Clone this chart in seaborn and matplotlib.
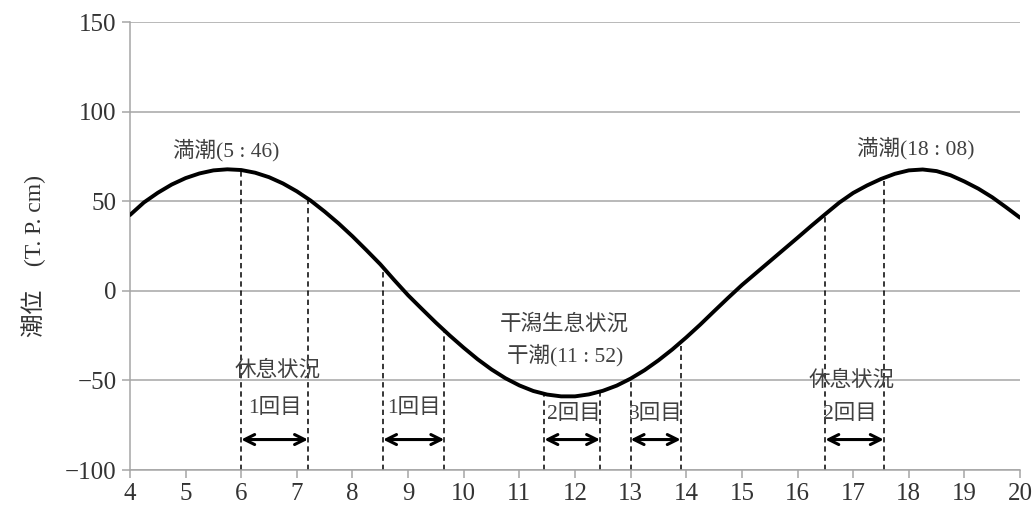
import numpy as np
import pandas as pd
import matplotlib
matplotlib.use("Agg")
import matplotlib.pyplot as plt
import seaborn as sns

# ---- data ----
hours = [4.0, 4.25, 4.5, 4.75, 5.0, 5.25, 5.5, 5.75, 6.0, 6.25, 6.5, 6.75,
         7.0, 7.25, 7.5, 7.75, 8.0, 8.25, 8.5, 8.75, 9.0, 9.25, 9.5, 9.75,
         10.0, 10.25, 10.5, 10.75, 11.0, 11.25, 11.5, 11.75, 12.0, 12.25, 12.5, 12.75,
         13.0, 13.25, 13.5, 13.75, 14.0, 14.25, 14.5, 14.75, 15.0, 15.25, 15.5, 15.75,
         16.0, 16.25, 16.5, 16.75, 17.0, 17.25, 17.5, 17.75, 18.0, 18.25, 18.5, 18.75,
         19.0, 19.25, 19.5, 19.75, 20.0]
tide = [42.3, 49.3, 54.7, 59.3, 62.9, 65.5, 67.2, 67.8, 67.4, 65.9, 63.4, 59.9,
        55.5, 50.3, 44.2, 37.6, 30.4, 22.7, 14.8, 6.0, -2.5, -10.2, -17.8, -25.0,
        -31.8, -38.2, -43.9, -48.8, -52.8, -55.9, -57.9, -58.9, -58.9, -57.8, -55.8, -52.9,
        -49.0, -44.3, -38.8, -32.7, -26.0, -18.9, -11.4, -4.0, 3.2, 9.8, 16.4, 23.0,
        29.6, 36.3, 42.8, 49.2, 54.6, 58.8, 62.4, 65.3, 67.2, 67.7, 66.8, 64.5,
        61.0, 57.0, 52.2, 46.6, 40.8]

# observation windows (start, end) and curve level at their dashed lines
win_start = [6.0, 8.55, 11.45, 13.0, 16.5]
win_end = [7.2, 9.65, 12.45, 13.9, 17.55]
start_level = [67.0, 13.0, -57.5, -49.5, 42.5]
end_level = [51.0, -22.5, -56.5, -31.0, 61.5]
arrow_level = -83.0

labels_text = ["満潮(5 : 46)", "満潮(18 : 08)", "休息状況", "1回目", "1回目",
               "干潟生息状況", "干潮(11 : 52)", "2回目", "3回目", "休息状況", "2回目"]
labels_x = [5.73, 18.12, 6.65, 6.6, 9.1, 11.8, 11.83, 11.98, 13.46, 16.97, 16.95]
labels_y = [78.6, 79.7, -44.8, -65.5, -65.5, -19.0, -36.0, -69.0, -69.0, -50.0, -69.0]

x_ticks = list(range(4, 21))
y_ticks = [-100, -50, 0, 50, 100, 150]
y_label = "潮位\u3000(T. P. cm)"

# ---- plotting ----
sns.set_style("white")
fam = ["Liberation Serif", "Noto Sans CJK JP"]
plt.rcParams["font.family"] = fam

fig = plt.figure(figsize=(10.34, 5.13), dpi=100)
ax = fig.add_axes([0.1257, 0.0838, 0.8608, 0.8733])

df = pd.DataFrame({"hour": hours, "tide": tide})
sns.lineplot(data=df, x="hour", y="tide", ax=ax, color="black", linewidth=2.8, zorder=3)

grid_c = "#a6a6a6"
for yv in y_ticks:
    ax.axhline(yv, color=grid_c, linewidth=1.1, zorder=1)

for xs, ys in zip(win_start + win_end, start_level + end_level):
    ax.vlines(xs, y_ticks[0], ys, colors="black", linestyles=(0, (3.5, 2.5)),
              linewidth=1.1, zorder=2)

for a, b in zip(win_start, win_end):
    ax.annotate("", xy=(a, arrow_level), xytext=(b, arrow_level),
                arrowprops=dict(arrowstyle="<->", color="black", lw=2.2,
                                mutation_scale=18, shrinkA=0, shrinkB=0), zorder=4)

txt_c = "#404040"
for t, xv, yv in zip(labels_text, labels_x, labels_y):
    ax.text(xv, yv, t, ha="center", va="center", fontsize=15.5, color=txt_c,
            family=fam, zorder=5)

ax.set_xlim(4, 20)
ax.set_ylim(-100, 150)
ax.set_xticks(x_ticks)
ax.set_yticks(y_ticks)
ax.set_xlabel("")
ax.set_ylabel(y_label, fontsize=17, family=fam, color="#333333")
ax.yaxis.set_label_coords(-0.094, 0.478)
ax.tick_params(axis="both", labelsize=18, direction="out", length=6, width=1.1,
               color=grid_c, labelcolor="#333333", left=True, bottom=True)
for lab in ax.get_xticklabels() + ax.get_yticklabels():
    lab.set_family(fam)
for s in ["top", "right"]:
    ax.spines[s].set_visible(False)
for s in ["left", "bottom"]:
    ax.spines[s].set_color(grid_c)
    ax.spines[s].set_linewidth(1.1)

fig.savefig("out.png", dpi=100)
